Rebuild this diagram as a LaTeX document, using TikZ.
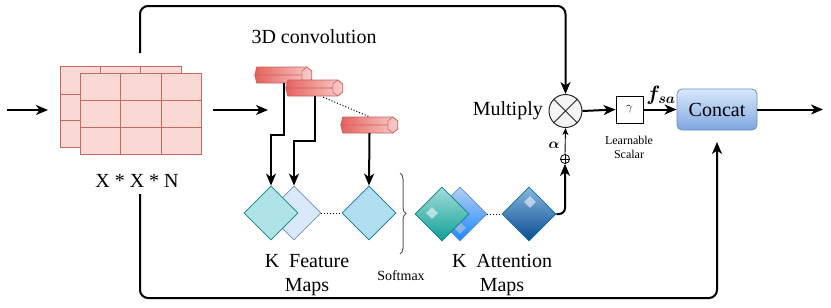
\documentclass[tikz,border=0pt]{standalone}
\usepackage{fontspec}
\usepackage{bm}
\setmainfont{Liberation Serif}
\usetikzlibrary{arrows.meta,decorations.pathreplacing,shapes.geometric,calc}
\definecolor{gridfill}{HTML}{FAD9D5}
\definecolor{gridline}{HTML}{C8685E}
\definecolor{barL}{HTML}{E5615C}
\definecolor{barR}{HTML}{F8CECC}
\definecolor{barS}{HTML}{C8625E}
\definecolor{tealF}{HTML}{B0E3E6}
\definecolor{tealS}{HTML}{0E8088}
\definecolor{blueF}{HTML}{DAE8FC}
\definecolor{blueS}{HTML}{6C8EBF}
\definecolor{skyF}{HTML}{B1DDF0}
\definecolor{skyS}{HTML}{10739E}
\definecolor{aoneT}{HTML}{A3DCD9}
\definecolor{aoneB}{HTML}{0FA096}
\definecolor{atwoT}{HTML}{B3CDF2}
\definecolor{atwoB}{HTML}{1A88FF}
\definecolor{athrT}{HTML}{86B6DD}
\definecolor{athrB}{HTML}{0A4C93}
\definecolor{concT}{HTML}{DAE8FC}
\definecolor{concB}{HTML}{7EA6E0}
\tikzset{
  arr/.style={-{Stealth[length=12pt,width=10pt,inset=3.5pt]}, line width=2pt},
  thinarr/.style={-{Stealth[length=7pt,width=6pt,inset=2pt]}, line width=0.9pt},
  lbl/.style={font=\fontsize{20}{24}\selectfont, align=center, inner sep=0pt},
  small/.style={font=\fontsize{14}{16}\selectfont, inner sep=0pt},
  tiny/.style={font=\fontsize{12}{14}\selectfont, align=center, inner sep=0pt},
  dia/.style={diamond, aspect=1, inner sep=0pt, minimum width=54pt, minimum height=54pt, line width=0.8pt},
  hl/.style={diamond, aspect=1, inner sep=0pt, minimum width=12pt, minimum height=12pt, fill=white, fill opacity=0.55},
  barbox/.style={inner sep=0pt, minimum width=57pt, minimum height=16pt},
  gridbox/.style={rectangle, draw=gridline, fill=gridfill, line width=1pt, inner sep=0pt, minimum width=121pt, minimum height=81pt}
}
\newcommand{\barpath}[1]{%
  \path[left color=barL, right color=barR] ($(#1.west)$) -- ++(2,-8) -- ++(50,0) -- ++(5,4) -- ++(0,8) -- ++(-5,4) -- ++(-50,0) -- cycle;
  \draw[barS, line width=0.8pt] ($(#1.west)$) -- ++(2,-8) -- ++(50,0) -- ++(5,4) -- ++(0,8) -- ++(-5,4) -- ++(-50,0) -- cycle;
  \draw[barS, line width=0.6pt] ($(#1.west)$) -- ++(47,0) -- ++(0,-4) -- ++(5,-4);
  \draw[barS, line width=0.6pt] ($(#1.west)+(47,0)$) -- ++(0,4) -- ++(5,4);
}
\begin{document}
\begin{tikzpicture}[x=1pt, y=-1pt]
\useasboundingbox (0,0) rectangle (831,308);

% input grids
\node[gridbox] (gridB) at (120.5,106.5) {};
\draw[gridline, line width=1pt] (100,66) -- (100,147) (140,66) -- (140,147) (60,94) -- (181,94) (60,120) -- (181,120);
\node[gridbox] (gridF) at (140.5,113.5) {};
\draw[gridline, line width=1pt] (120,73) -- (120,154) (161,73) -- (161,154) (80,100) -- (201,100) (80,127) -- (201,127);

\coordinate (in) at (7,110);
\coordinate (inend) at (48,110);
\draw[arr] (in) -- (inend);
\coordinate (gout) at (213,110);
\coordinate (gend) at (268,110);
\draw[arr] (gout) -- (gend);

\node[lbl] (xxn) at (137,181) {X * X * N};
\node[lbl] (conv) at (314,37) {3D convolution};

% bars
\node[barbox] (b1) at (283.5,75) {};
\node[barbox] (b2) at (314.5,88) {};
\node[barbox] (b3) at (369.5,125) {};
\barpath{b1}
\barpath{b2}
\barpath{b3}
\coordinate (dotA) at ($(b2.south east)+(-20,1)$);
\draw[dotted, line width=1pt] (dotA) -- (b3.north);

% feature maps
\node[dia, fill=blueF, draw=blueS] (d2) at (294,213) {};
\node[dia, fill=tealF, draw=tealS] (d1) at (271,213) {};
\node[dia, fill=skyF, draw=skyS] (d3) at (369,213) {};
\draw[dotted, line width=1pt] (d2.east) -- (d3.west);

\draw[arr] (b1.south) -- ++(0,52) -| (d1.north);
\draw[arr] (b2.south) -- ++(0,45) -| (d2.north);
\draw[arr] (b3.south) -- (d3.north);

\node[lbl] (fm) at (307,275) {K\ \ Feature\\Maps};

% brace
\coordinate (brA) at (400,173);
\coordinate (brB) at (400,254);
\draw[black!65, line width=1pt, decorate, decoration={brace, amplitude=6pt}] (brA) -- (brB);
\node[small] (sm) at (401,276) {Softmax};

% attention maps
\node[dia, top color=atwoT, bottom color=atwoB, draw=blueS] (a2) at (460,214) {};
\node[hl, fill=gray!40] (h2) at (460,228) {};
\node[dia, top color=aoneT, bottom color=aoneB, draw=tealS] (a1) at (442,214) {};
\node[hl] (h1) at (432,213) {};
\node[dia, top color=athrT, bottom color=athrB, draw=skyS] (a3) at (529,214) {};
\node[hl] (h3) at (530,202) {};
\draw[dotted, line width=1pt] (a2.east) -- (a3.west);
\node[lbl] (am) at (502,275) {K\ \ Attention\\Maps};

% plus and multiply
\node[circle, draw, line width=0.8pt, inner sep=0pt, minimum size=9pt, fill=white] (plus) at (565,159) {};
\draw[line width=0.8pt] (plus.north) -- (plus.south) (plus.west) -- (plus.east);
\node[circle, draw=black!85, line width=1pt, inner sep=0pt, minimum size=33pt, fill=black!4] (mul) at (565.5,111) {};
\draw[line width=1pt, black!85] (mul.north west) -- (mul.south east) (mul.north east) -- (mul.south west);
\node[lbl, anchor=east] (multxt) at (543,111) {Multiply};

\draw[arr, rounded corners=6] (a3.east) -| (plus.south);
\draw[thinarr] (plus.north) -- (mul.south);
\node[font=\fontsize{14}{16}\selectfont, inner sep=0pt] (alpha) at (554,145) {$\bm{\alpha}$};

% top skip
\coordinate (topstart) at (140,53);
\coordinate (toprow) at (0,6);
\draw[arr, rounded corners=8] (topstart) |- (mul.north |- toprow) -- (mul.north);

% gamma, concat
\node[draw, line width=0.8pt, minimum width=27pt, minimum height=27pt, inner sep=0pt, font=\fontsize{12}{14}\selectfont] (gam) at (629.5,109.5) {$\gamma$};
\node[tiny] (ls) at (629,147) {Learnable\\Scalar};
\node[draw=blueS, line width=0.8pt, rounded corners=5pt, top color=concT, bottom color=concB, minimum width=80pt, minimum height=41pt, lbl] (concat) at (717,109.5) {Concat};
\draw[arr] (mul.east) -- (gam.west);
\draw[arr] (gam.east) -- (concat.west);
\node[lbl] (fsa) at (661,95) {$\bm{f_{sa}}$};
\coordinate (out) at (823,109.5);
\draw[arr] (concat.east) -- (out);

% bottom skip
\coordinate (botstart) at (140,194);
\coordinate (botrow) at (0,298);
\coordinate (cend) at (717,142);
\draw[arr, rounded corners=8] (botstart) |- (cend |- botrow) -- (cend);
\end{tikzpicture}
\end{document}
